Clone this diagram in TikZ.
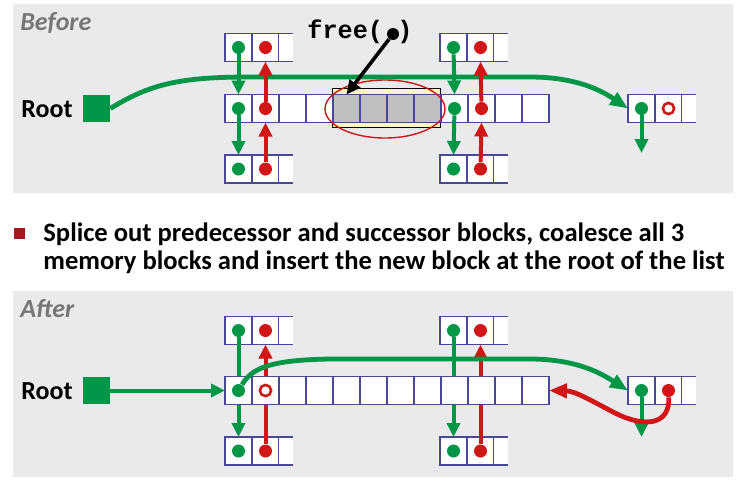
\documentclass[tikz,border=0pt]{standalone}
\usepackage{fontspec}
\setmainfont{Carlito}
\newfontfamily\codefont{Liberation Mono}
\usepackage{xcolor}
\usetikzlibrary{arrows.meta,positioning,shapes.geometric}
\definecolor{LLGreen}{RGB}{0,150,72}
\definecolor{LLRed}{RGB}{208,22,22}
\definecolor{LLCell}{RGB}{72,72,150}
\definecolor{LLPanel}{RGB}{234,234,236}
\definecolor{LLFreed}{RGB}{192,192,195}
\definecolor{LLYellow}{RGB}{250,242,202}
\definecolor{LLLabel}{RGB}{118,118,120}
\definecolor{LLBullet}{RGB}{168,22,32}

% one free-list block: two full cells and an open half cell
\newcommand{\listblock}[3]{%
  \node[cell] (#1a) at (#2+13.5,#3) {};
  \node[cell, right=0pt of #1a] (#1b) {};
  \node[halfcell, right=0pt of #1b] (#1c) {};
  \draw[cellline] (#1c.north west) -- (#1c.north east) (#1c.south west) -- (#1c.south east);
}

\begin{document}
\begin{tikzpicture}[
  x=0.5pt, y=-0.5pt,
  cell/.style={draw=LLCell, fill=white, line width=0.6pt, minimum width=13.5pt, minimum height=14pt, inner sep=0pt, outer sep=0pt},
  halfcell/.style={fill=white, minimum width=7pt, minimum height=14pt, inner sep=0pt, outer sep=0pt},
  cellline/.style={draw=LLCell, line width=0.6pt},
  freedbox/.style={draw=black, fill=LLYellow, line width=0.5pt, minimum width=54pt, minimum height=19.5pt, inner sep=0pt},
  gdot/.style={circle, fill=LLGreen, inner sep=0pt, minimum size=6.5pt},
  rdot/.style={circle, fill=LLRed, inner sep=0pt, minimum size=6.5pt},
  kdot/.style={circle, fill=black, inner sep=0pt, minimum size=6pt},
  rring/.style={circle, draw=LLRed, line width=1.3pt, inner sep=0pt, minimum size=5.6pt},
  rootbox/.style={fill=LLGreen, minimum size=13.5pt, inner sep=0pt},
  glink/.style={-{Triangle[length=7pt,width=6.5pt]}, line width=2pt, draw=LLGreen},
  rlink/.style={-{Triangle[length=7pt,width=6.5pt]}, line width=2pt, draw=LLRed},
  klink/.style={-{Triangle[length=7pt,width=6.5pt]}, line width=1.8pt, draw=black},
  gcurve/.style={-{Triangle[length=9pt,width=7pt]}, line width=2.4pt, draw=LLGreen},
  rcurve/.style={-{Triangle[length=9pt,width=7pt]}, line width=2.4pt, draw=LLRed},
  tag/.style={font=\fontsize{13}{15}\selectfont\bfseries\itshape, text=LLLabel, inner sep=0pt},
  rootlbl/.style={font=\fontsize{13}{15}\selectfont\bfseries, inner sep=0pt},
  codelbl/.style={font=\fontsize{12.6}{15}\selectfont\codefont\bfseries, inner sep=0pt},
  note/.style={font=\fontsize{13.3}{14}\selectfont\bfseries, align=left, inner sep=0pt},
  bullet/.style={fill=LLBullet, minimum size=5.5pt, inner sep=0pt}
]
\useasboundingbox (0,0) rectangle (739,483);

% ---- before ----
\fill[LLPanel] (13,4) rectangle (733,193);
\node[tag, anchor=base west] (before) at (20,30) {Before};
\node[rootlbl, anchor=base east] (bRootTxt) at (73,117) {Root};
\node[rootbox] (bRoot) at (96.5,108.5) {};

\listblock{bTopL}{225}{47.5}
\listblock{bBotL}{225}{169}
\listblock{bTopR}{440}{47.5}
\listblock{bBotR}{440}{169}
\listblock{bHead}{628}{108.5}

\foreach \i in {0,...,11} \node[cell] (bm\i) at (238.5+27*\i,108.5) {};
\node[freedbox] (freed) at (386,108) {};
\foreach \i in {4,...,7} \node[cell, fill=LLFreed] (bf\i) at (bm\i) {};
\node[ellipse, draw=LLRed, line width=0.7pt, minimum width=60pt, minimum height=29pt] (mark) at (385,109) {};

\node[gdot] (bTopLg) at (bTopLa) {};
\node[rdot] (bTopLr) at (bTopLb) {};
\node[gdot] (bBotLg) at (bBotLa) {};
\node[rdot] (bBotLr) at (bBotLb) {};
\node[gdot] (bTopRg) at (bTopRa) {};
\node[rdot] (bTopRr) at (bTopRb) {};
\node[gdot] (bBotRg) at (bBotRa) {};
\node[rdot] (bBotRr) at (bBotRb) {};
\node[gdot] (bHeadg) at (bHeada) {};
\node[rring] (bHeadr) at (bHeadb) {};
\node[gdot] (bm0g) at (bm0) {};
\node[rdot] (bm1r) at (bm1) {};
\node[gdot] (bm8g) at (bm8) {};
\node[rdot] (bm9r) at (bm9) {};

\draw[gcurve] (bRoot.east) .. controls (150,84) and (180,77) .. (250,77) -- (530,77) .. controls (580,77) and (605,93) .. (bHeada.west);

\draw[glink] (bTopLg) -- (bm0.north);
\draw[glink] (bm0g) -- (bBotLa.north);
\draw[rlink] (bBotLr) -- (bm1.south);
\draw[rlink] (bm1r) -- (bTopLb.south);
\draw[glink] (bTopRg) -- (bm8.north);
\draw[glink] (bm8g) -- (bBotRa.north);
\draw[rlink] (bBotRr) -- (bm9.south);
\draw[rlink] (bm9r) -- (bTopRb.south);
\coordinate (bHeadnext) at (641.5,153);
\draw[glink] (bHeadg) -- (bHeadnext);

\node[codelbl, anchor=base west] (freetxt) at (307,38) {free(};
\node[kdot] (freearg) at (393,34) {};
\node[codelbl, anchor=base west] (freeend) at (397,38) {)};
\draw[klink] (freearg) -- (bm4.north);

% ---- step ----
\node[bullet] (bul) at (19,233) {};
\node[note, anchor=north west] (step) at (43,222) {Splice out predecessor and successor blocks, coalesce all 3\\memory blocks and insert the new block at the root of the list};

% ---- after ----
\fill[LLPanel] (13,291) rectangle (733,477);
\node[tag, anchor=base west] (after) at (20,317) {After};
\node[rootlbl, anchor=base east] (aRootTxt) at (73,399) {Root};
\node[rootbox] (aRoot) at (96.5,390.5) {};

\listblock{aTopL}{225}{330.5}
\listblock{aBotL}{225}{451}
\listblock{aTopR}{440}{330.5}
\listblock{aBotR}{440}{451}
\listblock{aHead}{628}{390.5}

\node[gdot] (aTopLg) at (aTopLa) {};
\node[rdot] (aTopLr) at (aTopLb) {};
\node[gdot] (aBotLg) at (aBotLa) {};
\node[rdot] (aBotLr) at (aBotLb) {};
\node[gdot] (aTopRg) at (aTopRa) {};
\node[rdot] (aTopRr) at (aTopRb) {};
\node[gdot] (aBotRg) at (aBotRa) {};
\node[rdot] (aBotRr) at (aBotRb) {};
\node[gdot] (aHeadg) at (aHeada) {};
\node[rdot] (aHeadr) at (aHeadb) {};

% spliced links run under the coalesced block
\draw[glink] (aTopLg) -- (aBotLa.north);
\draw[rlink] (aBotLr) -- (aTopLb.south);
\draw[glink] (aTopRg) -- (aBotRa.north);
\draw[rlink] (aBotRr) -- (aTopRb.south);

\foreach \i in {0,...,11} \node[cell] (am\i) at (238.5+27*\i,390.5) {};
\node[gdot] (am0g) at (am0) {};
\node[rring] (am1r) at (am1) {};

\draw[glink] (aRoot) -- (am0.west);
\draw[gcurve] (am0g) .. controls (252,368) and (270,360) .. (330,359) -- (530,359) .. controls (580,359) and (605,376) .. (aHeada.west);
\coordinate (aHeadnext) at (641.5,437);
\draw[glink] (aHeadg) -- (aHeadnext);
\draw[rcurve] (aHeadr) .. controls (670,425) and (645,428) .. (615,413) .. controls (590,400) and (575,391) .. (am11.east);
\end{tikzpicture}
\end{document}
